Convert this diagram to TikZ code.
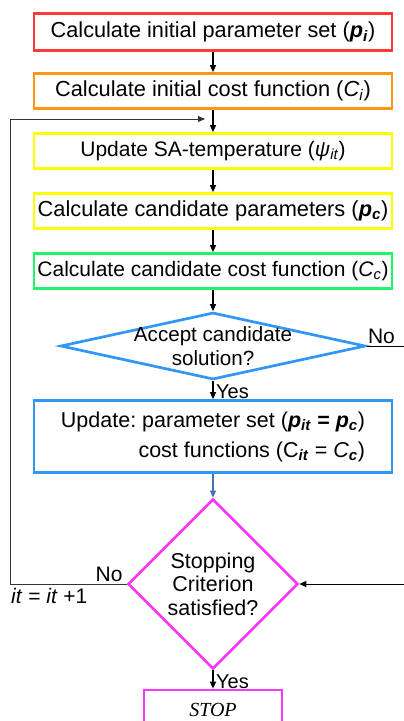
\documentclass[tikz,border=0pt]{standalone}
\usepackage{fontspec}
\setmainfont{Liberation Sans}
\newfontfamily\stopfont{Liberation Serif}
\usepackage{xcolor}
\usepackage{tikz}
\usetikzlibrary{calc}
\usetikzlibrary{arrows.meta}
\usetikzlibrary{shapes.geometric}
\definecolor{initred}{RGB}{255,58,58}
\definecolor{initorange}{RGB}{255,150,20}
\definecolor{tempyellow}{RGB}{255,255,0}
\definecolor{candgreen}{RGB}{30,245,105}
\definecolor{updblue}{RGB}{50,150,245}
\definecolor{stopmagenta}{RGB}{250,55,250}
\definecolor{flowblue}{RGB}{70,115,180}
\newcommand{\bfit}[1]{\textbf{\textit{#1}}}
\newcommand{\fsz}[1]{\fontsize{#1}{23.5}\selectfont\frenchspacing}
\tikzstyle{procnode}=[black, line width=2.7pt, shape=rectangle, fill=white, minimum width=358pt, minimum height=35pt, inner sep=1pt, align=center, font=\fsz{21.5}]
\tikzstyle{decnode}=[line width=2.7pt, shape=diamond, fill=white, inner sep=0pt]
\tikzstyle{flowlabel}=[shape=rectangle, inner sep=1pt, font=\fsz{21}]

\begin{document}
\begin{tikzpicture}[x=1pt, y=-1pt]
\useasboundingbox (0,0) rectangle (404,721);
\node [procnode, draw=initred, minimum height=37pt, font=\fsz{21.7}] (initp) at (213,32) {Calculate initial parameter set (\bfit{p}\textsubscript{\bfit{i}})};
\node [procnode, draw=initorange, font=\fsz{21.8}] (initc) at (213,91) {Calculate initial cost function (\textit{C}\textsubscript{\textit{i}})};
\node [procnode, draw=tempyellow, font=\fsz{21}] (temp) at (213,151) {Update SA-temperature (\textit{ψ}\textsubscript{\textit{it}})};
\node [procnode, draw=tempyellow, font=\fsz{21.8}] (candp) at (213,211) {Calculate candidate parameters (\bfit{p}\textsubscript{\bfit{c}})};
\node [procnode, draw=candgreen, font=\fsz{21}] (candc) at (213,271) {Calculate candidate cost function (\textit{C}\textsubscript{\textit{c}})};
\node [decnode, draw=updblue, minimum width=305pt, minimum height=67pt, label={[align=center, font=\fsz{20.6}]center:{Accept candidate\\solution?}}] (accept) at (213,346) {};
\node [procnode, draw=updblue, minimum height=72pt, align=right, font=\fontsize{21.5}{30}\selectfont\frenchspacing] (update) at (213,436.5) {Update: parameter set (\bfit{p}\textsubscript{\bfit{it}} \textbf{=} \bfit{p}\textsubscript{\bfit{c}})\\cost functions (C\textsubscript{\bfit{it}} = \textit{C}\textsubscript{\bfit{c}})};
\node [decnode, draw=stopmagenta, minimum width=170pt, minimum height=170pt, label={[align=center, font=\fsz{21.5}]center:{Stopping\\Criterion\\satisfied?}}] (stopq) at (213,584) {};
\node [procnode, draw=stopmagenta, minimum width=138pt, minimum height=40pt, font=\stopfont\itshape\fontsize{20}{22}\selectfont] (stop) at (213,710) {STOP};

\coordinate (loopbot) at (10,584);
\coordinate (looptop) at (10,119);
\coordinate (loopend) at (205,119);
\coordinate (accout) at (404,346);
\coordinate (stopin) at (404,584);

\draw[-{Triangle[length=7pt, width=6pt]}, line width=1.2pt, color=black] (initp) -- (initc);
\draw[-{Triangle[length=7pt, width=6pt]}, line width=1.2pt, color=black] (initc) -- (temp);
\draw[-{Triangle[length=7pt, width=6pt]}, line width=1.2pt, color=black] (temp) -- (candp);
\draw[-{Triangle[length=7pt, width=6pt]}, line width=1.2pt, color=black] (candp) -- (candc);
\draw[-{Triangle[length=7pt, width=6pt]}, line width=1.2pt, color=black] (candc) -- (accept.north);
\draw[-{Triangle[length=7pt, width=6pt]}, line width=1.2pt, color=black] (accept.south) -- (update);
\draw[-{Triangle[length=7pt, width=6pt]}, line width=1.2pt, color=flowblue] (update) -- (stopq.north);
\draw[-{Triangle[length=7pt, width=6pt]}, line width=1.2pt, color=black] (stopq.south) -- (stop);
\draw[line width=1pt, color=black] (accept.east) -- (accout);
\draw[-{Triangle[length=7pt, width=6pt]}, line width=1pt, color=black] (stopin) -- (stopq.east);
\draw[-{Triangle[length=7pt, width=6pt]}, line width=1pt, color=black!80] (stopq.west) -- (loopbot) -- (looptop) -- (loopend);

\node [flowlabel, anchor=south west] (noacc) at ($(accept.east)+(0,-1)$) {No};
\node [flowlabel, anchor=west, font=\fsz{20}] (yesacc) at ($(accept.south)+(2,11)$) {Yes};
\node [flowlabel, anchor=south east] (nostop) at ($(stopq.west)+(-3,-1)$) {No};
\node [flowlabel, anchor=north west] (iter) at ($(loopbot)+(0,3)$) {\textit{it} = \textit{it} +1};
\node [flowlabel, anchor=west, font=\fsz{20}] (yesstop) at ($(stopq.south)+(2,11)$) {Yes};
\end{tikzpicture}
\end{document}
